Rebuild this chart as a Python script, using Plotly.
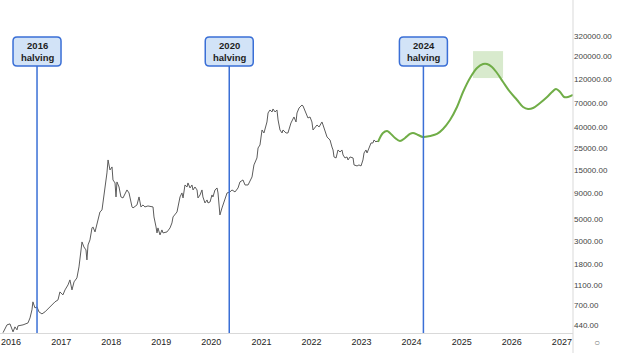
import plotly.graph_objects as go

# ---- historic price ----
hist_dates = [
    "2015-11-04", "2015-12-03", "2015-12-25", "2016-01-16", "2016-01-30", "2016-02-14", "2016-02-21",
    "2016-03-29", "2016-05-04", "2016-05-19", "2016-06-02", "2016-06-09", "2016-06-24", "2016-07-09",
    "2016-07-23", "2016-08-14", "2016-09-05", "2016-09-27", "2016-10-26", "2016-11-17", "2016-12-09",
    "2016-12-23", "2017-01-14", "2017-01-29", "2017-02-20", "2017-03-06", "2017-03-21", "2017-04-05",
    "2017-04-26", "2017-05-11", "2017-06-02", "2017-06-16", "2017-07-01", "2017-07-08", "2017-07-16",
    "2017-07-30", "2017-08-14", "2017-08-21", "2017-09-05", "2017-09-19", "2017-10-11", "2017-10-26",
    "2017-11-02", "2017-11-17", "2017-12-01", "2017-12-09", "2017-12-23", "2018-01-07", "2018-01-14",
    "2018-01-29", "2018-02-05", "2018-02-12", "2018-02-27", "2018-03-13", "2018-03-28", "2018-04-26",
    "2018-05-11", "2018-06-02", "2018-06-09", "2018-07-08", "2018-07-23", "2018-08-06", "2018-08-21",
    "2018-09-04", "2018-09-26", "2018-11-02", "2018-11-09", "2018-11-24", "2018-12-01", "2018-12-08",
    "2018-12-23", "2019-01-06", "2019-01-14", "2019-02-12", "2019-03-06", "2019-03-20", "2019-03-28",
    "2019-04-26", "2019-05-18", "2019-06-01", "2019-06-09", "2019-06-23", "2019-07-08", "2019-07-15",
    "2019-07-30", "2019-08-13", "2019-08-21", "2019-09-04", "2019-09-19", "2019-09-26", "2019-10-11",
    "2019-10-25", "2019-11-01", "2019-11-16", "2019-12-01", "2019-12-08", "2019-12-23", "2020-01-06",
    "2020-01-13", "2020-01-28", "2020-02-12", "2020-02-19", "2020-03-04", "2020-03-19", "2020-04-10",
    "2020-04-25", "2020-05-16", "2020-05-31", "2020-06-22", "2020-07-14", "2020-07-28", "2020-08-19",
    "2020-09-03", "2020-09-25", "2020-10-24", "2020-11-07", "2020-11-29", "2020-12-07", "2020-12-21",
    "2021-01-05", "2021-01-19", "2021-02-10", "2021-02-18", "2021-03-04", "2021-03-19", "2021-03-26",
    "2021-04-10", "2021-04-24", "2021-05-02", "2021-05-16", "2021-05-31", "2021-06-07", "2021-06-29",
    "2021-07-13", "2021-08-04", "2021-08-19", "2021-08-26", "2021-09-10", "2021-09-17", "2021-10-02",
    "2021-10-24", "2021-10-31", "2021-11-14", "2021-11-29", "2021-12-06", "2021-12-21", "2022-01-04",
    "2022-01-12", "2022-01-26", "2022-02-10", "2022-02-25", "2022-03-18", "2022-03-26", "2022-04-09",
    "2022-04-24", "2022-05-01", "2022-05-16", "2022-05-30", "2022-06-07", "2022-06-14", "2022-06-29",
    "2022-07-13", "2022-07-28", "2022-08-11", "2022-08-19", "2022-09-02", "2022-09-17", "2022-09-24",
    "2022-10-09", "2022-10-31", "2022-11-07", "2022-11-29", "2022-12-13", "2022-12-28", "2023-01-11",
    "2023-01-19", "2023-02-02", "2023-02-10", "2023-02-24", "2023-03-11", "2023-03-25", "2023-04-02",
    "2023-04-16", "2023-04-24", "2023-05-01",
]
hist_prices = [
    375, 448, 458, 382, 428, 400, 438,
    448, 468, 525, 630, 756, 659, 675,
    602, 575, 602, 645, 706, 756, 791,
    948, 886, 992, 1112, 1246, 992, 1191,
    1304, 1674, 2956, 2638, 2464, 1963, 2761,
    3094, 4065, 4158, 3712, 4554, 5849, 6121,
    7176, 9645, 14200, 19080, 15200, 16275, 12112,
    11313, 8226, 11570, 10322, 8226, 8041, 9645,
    9008, 6552, 6405, 6857, 8226, 6552, 6857,
    6552, 6703, 6552, 5220, 4158, 3628, 4065,
    3467, 3884, 3628, 3712, 4065, 4554, 5220,
    5849, 8226, 9008, 8041, 10803, 10322, 11313,
    10090, 10803, 9645, 10322, 9645, 8041, 8609,
    9645, 8226, 7176, 7683, 7176, 7341, 8609,
    8226, 9645, 10090, 9008, 5463, 6405, 7683,
    9008, 9216, 9645, 9216, 10090, 11574, 12112,
    10803, 10803, 12962, 17033, 19970, 25063, 26834,
    37749, 35258, 45278, 55562, 59490, 56840, 60860,
    56840, 59490, 47386, 37750, 35260, 37750, 35260,
    35260, 44260, 49590, 50730, 45280, 55560, 62250,
    66650, 65150, 59490, 53095, 49590, 50730, 45280,
    37750, 39500, 42290, 40410, 45280, 42290, 36070,
    32190, 31460, 30066, 25640, 23949, 20430, 19970,
    23949, 22884, 23949, 21381, 19970, 20430, 19080,
    20430, 19970, 17033, 16650, 17033, 16650, 19080,
    22370, 23949, 22370, 25060, 28082, 28080, 30066,
    28729, 29390, 28729,
]

# ---- projection (green) ----
proj_dates = [
    "2023-05-01", "2023-06-06", "2023-07-06", "2023-07-27", "2023-09-02", "2023-10-08", "2023-11-14",
    "2023-12-20", "2024-01-11", "2024-02-17", "2024-03-24", "2024-05-14", "2024-07-04", "2024-08-17",
    "2024-10-07", "2024-11-27", "2025-01-10", "2025-03-02", "2025-04-22", "2025-06-05", "2025-07-04",
    "2025-08-09", "2025-09-15", "2025-10-29", "2025-12-19", "2026-02-08", "2026-03-24", "2026-04-29",
    "2026-06-05", "2026-07-26", "2026-09-15", "2026-10-21", "2026-11-19", "2026-12-19", "2027-01-17",
    "2027-02-15", "2027-03-23",
]
proj_prices = [
    28729, 35260, 36900, 35260, 31465, 29390, 31465,
    34464, 35260, 33688, 32190, 32930, 34460, 38618,
    47386, 63684, 89570, 123160, 154600, 169340, 169340,
    158160, 137970, 112410, 89570, 74670, 63684, 60858,
    62250, 69742, 79940, 89570, 95898, 89570, 79940,
    79940, 83663,
]

# ---- halvings ----
halving_dates = ["2016-07-09", "2020-05-11", "2024-03-27"]
halving_labels = ["2016", "2020", "2024"]

# ---- highlighted target zone ----
zone_dates = ["2025-03-24", "2025-10-29"]
zone_prices = [123000, 227000]

# ---- axis ticks ----
y_ticks = [440, 700, 1100, 1800, 3000, 5000, 9000, 15000, 25000, 40000, 70000, 120000, 200000, 320000]
y_ticktext = [f"{v:.2f}" for v in y_ticks]
x_years = list(range(2016, 2028))
x_tickvals = [f"{y}-01-01" for y in x_years]
x_ticktext = [str(y) for y in x_years]

BLUE = "#3a6fd6"
fig = go.Figure()

fig.add_shape(type="rect", xref="x", yref="y",
              x0=zone_dates[0], x1=zone_dates[1], y0=zone_prices[0], y1=zone_prices[1],
              fillcolor="#d8eacd", line_width=0, layer="below")

fig.add_trace(go.Scatter(x=hist_dates, y=hist_prices, mode="lines",
                         line=dict(color="#5c5c5c", width=1), hoverinfo="skip"))
fig.add_trace(go.Scatter(x=proj_dates, y=proj_prices, mode="lines",
                         line=dict(color="#70ad47", width=2, shape="spline", smoothing=1.0),
                         hoverinfo="skip"))

PLOT_H = 333.0
box_top = 1 - 37 / PLOT_H
box_bot = 1 - 66 / PLOT_H
r = 4 / PLOT_H
hw = 24
for d, lab in zip(halving_dates, halving_labels):
    fig.add_shape(type="line", xref="x", yref="paper", x0=d, x1=d, y0=0, y1=box_bot,
                  line=dict(color=BLUE, width=1.5))
    path = (f"M {-hw+4},{box_bot} L {hw-4},{box_bot} Q {hw},{box_bot} {hw},{box_bot+r} "
            f"L {hw},{box_top-r} Q {hw},{box_top} {hw-4},{box_top} "
            f"L {-hw+4},{box_top} Q {-hw},{box_top} {-hw},{box_top-r} "
            f"L {-hw},{box_bot+r} Q {-hw},{box_bot} {-hw+4},{box_bot} Z")
    fig.add_shape(type="path", xref="x", yref="paper", xsizemode="pixel", xanchor=d,
                  path=path, fillcolor="#d2e3f7", line=dict(color=BLUE, width=1.5))
    fig.add_annotation(x=d, xref="x", yref="paper", y=(box_top + box_bot) / 2,
                       text=f"<b>{lab}<br>halving</b>", showarrow=False,
                       font=dict(family="Liberation Sans, Arial", size=9.5, color="#1e1e1e"),
                       xanchor="center", yanchor="middle")

# right-hand separator line extending into the bottom margin
fig.add_shape(type="line", xref="paper", yref="paper", x0=1, x1=1, y0=-20 / PLOT_H, y1=1,
              line=dict(color="#d9d9d9", width=1))
fig.add_annotation(xref="paper", yref="paper", x=1 + 24 / 573, y=-9 / PLOT_H, text="○",
                   showarrow=False, font=dict(size=10, color="#777777"),
                   xanchor="center", yanchor="middle")

fig.update_layout(
    width=620, height=353,
    margin=dict(l=0, r=47, t=0, b=20),
    paper_bgcolor="white", plot_bgcolor="white",
    showlegend=False,
    xaxis=dict(range=["2015-10-13", "2027-03-23"], tickvals=x_tickvals, ticktext=x_ticktext,
               showgrid=False, zeroline=False, showline=True, linecolor="#d9d9d9", linewidth=1,
               ticks="", tickfont=dict(family="Liberation Sans, Arial", size=9, color="#222222")),
    yaxis=dict(type="log", side="right", range=[2.571, 5.861], tickvals=y_ticks,
               ticktext=y_ticktext, showgrid=False, zeroline=False, showline=False,
               ticks="", tickfont=dict(family="Liberation Sans, Arial", size=8, color="#444444")),
)

fig.write_html("out.html")
